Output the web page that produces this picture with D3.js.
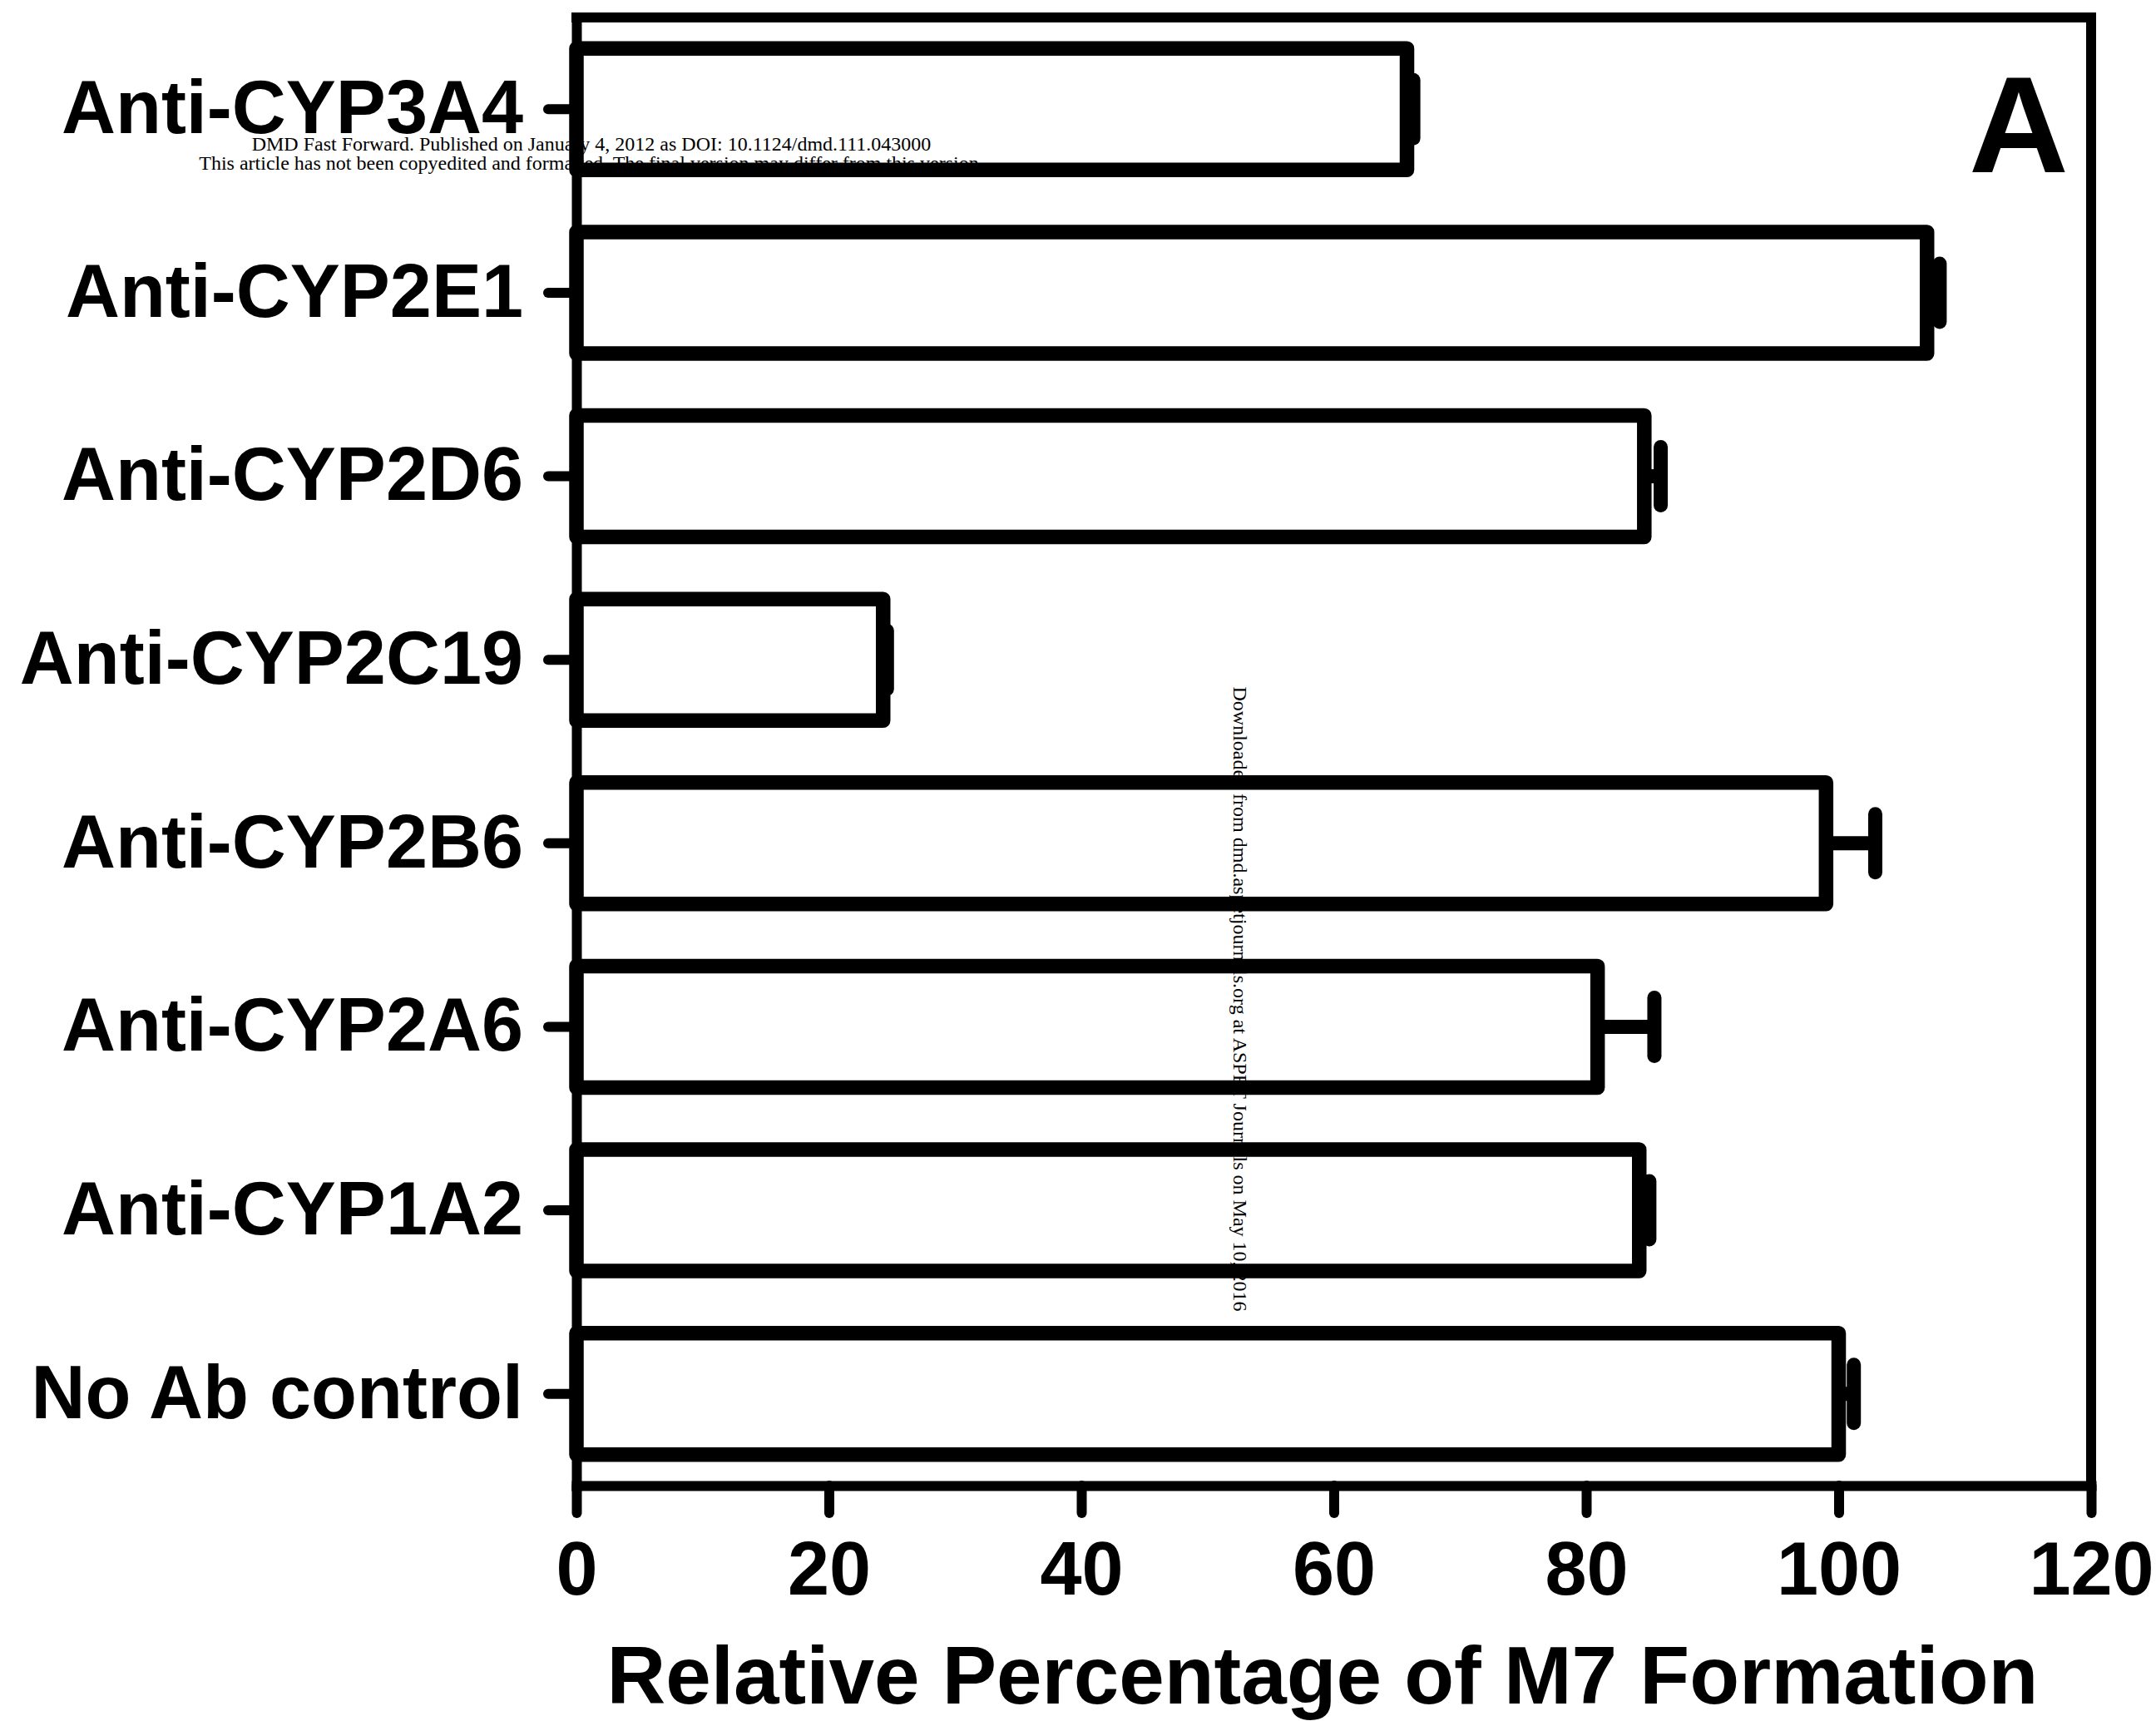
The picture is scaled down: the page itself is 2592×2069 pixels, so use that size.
<!DOCTYPE html>
<html>
<head>
<meta charset="utf-8">
<script src="https://cdn.jsdelivr.net/npm/d3@7"></script>
<style>
  html, body { margin: 0; padding: 0; background: #fff; }
  svg { display: block; }
</style>
</head>
<body>
<script>
// Antibody inhibition of M7 formation (relative to the no-antibody control)
const categories = [
  "Anti-CYP3A4", "Anti-CYP2E1", "Anti-CYP2D6", "Anti-CYP2C19",
  "Anti-CYP2B6", "Anti-CYP2A6", "Anti-CYP1A2", "No Ab control"
];
const means  = [65.8, 107.0, 84.6, 24.3, 99.0, 80.9, 84.2, 100.0];
const errors = [0.5, 1.0, 1.3, 0.3, 3.9, 4.5, 0.8, 1.2];
const xTicks = [0, 20, 40, 60, 80, 100, 120];
const xTitle = "Relative Percentage of M7 Formation";
const panelLetter = "A";
const noteLines = [
  "DMD Fast Forward. Published on January 4, 2012 as DOI: 10.1124/dmd.111.043000",
  "This article has not been copyedited and formatted. The final version may differ from this version."
];
const sideNote = "Downloaded from dmd.aspetjournals.org at ASPET Journals on May 10, 2016";

const W = 2592, H = 2069;
const plotLeft = 693, plotRight = 2514, plotTop = 21, plotBottom = 1786;
const sans = "'Liberation Sans', Arial, Helvetica, sans-serif";
const serif = "'Liberation Serif', 'Times New Roman', Times, serif";

const svg = d3.select("body").append("svg")
  .attr("width", W).attr("height", H)
  .style("background", "#fff");

const x = d3.scaleLinear().domain([0, 120]).range([plotLeft, plotRight]);
const y = d3.scaleBand().domain(categories).range([plotTop, plotBottom])
  .paddingInner(0.338).paddingOuter(0.169);

const rows = categories.map((c, i) => ({ c, m: means[i], e: errors[i] }));

// frame: top and right edges
svg.append("line")
  .attr("x1", plotLeft).attr("x2", plotRight).attr("y1", plotTop).attr("y2", plotTop)
  .attr("stroke", "#000").attr("stroke-width", 12).attr("stroke-linecap", "square");
svg.append("line")
  .attr("x1", plotRight).attr("x2", plotRight).attr("y1", plotTop).attr("y2", plotBottom)
  .attr("stroke", "#000").attr("stroke-width", 12).attr("stroke-linecap", "square");

// bars
svg.append("g").selectAll("rect").data(rows).join("rect")
  .attr("x", x(0))
  .attr("y", d => y(d.c))
  .attr("width", d => x(d.m) - x(0))
  .attr("height", y.bandwidth())
  .attr("fill", "none")
  .attr("stroke", "#000")
  .attr("stroke-width", 17.5)
  .attr("stroke-linejoin", "round");

// error bars (upper side only)
const eb = svg.append("g").attr("stroke", "#000").attr("stroke-width", 17);
eb.selectAll("line.stem").data(rows).join("line").attr("class", "stem")
  .attr("x1", d => x(d.m)).attr("x2", d => x(d.m + d.e))
  .attr("y1", d => y(d.c) + y.bandwidth() / 2)
  .attr("y2", d => y(d.c) + y.bandwidth() / 2);
eb.selectAll("line.cap").data(rows).join("line").attr("class", "cap")
  .attr("x1", d => x(d.m + d.e)).attr("x2", d => x(d.m + d.e))
  .attr("y1", d => y(d.c) + y.bandwidth() / 2 - 35)
  .attr("y2", d => y(d.c) + y.bandwidth() / 2 + 35)
  .attr("stroke-linecap", "round");

// x axis
const gx = svg.append("g")
  .attr("transform", `translate(0,${plotBottom})`)
  .call(d3.axisBottom(x).tickValues(xTicks).tickFormat(d3.format("d"))
    .tickSizeInner(33).tickSizeOuter(0).tickPadding(34));
gx.select(".domain").attr("stroke-width", 12).attr("stroke-linecap", "square");
gx.selectAll(".tick line").attr("stroke-width", 12).attr("stroke-linecap", "round");
gx.selectAll(".tick text")
  .attr("font-family", sans).attr("font-weight", "bold").attr("font-size", 90).attr("fill", "#000");

// y axis
const gy = svg.append("g")
  .attr("transform", `translate(${plotLeft},0)`)
  .call(d3.axisLeft(y).tickSizeInner(34).tickSizeOuter(0).tickPadding(30));
gy.select(".domain").attr("stroke-width", 12).attr("stroke-linecap", "square");
gy.selectAll(".tick line").attr("stroke-width", 12).attr("stroke-linecap", "round");
gy.selectAll(".tick text")
  .attr("font-family", sans).attr("font-weight", "bold").attr("font-size", 90).attr("fill", "#000");

// axis title
svg.append("text")
  .attr("x", 1590).attr("y", 2048)
  .attr("text-anchor", "middle")
  .attr("font-family", sans).attr("font-weight", "bold").attr("font-size", 98)
  .text(xTitle);

// panel letter
svg.append("text")
  .attr("x", 2427).attr("y", 207)
  .attr("text-anchor", "middle")
  .attr("font-family", sans).attr("font-weight", "bold").attr("font-size", 166)
  .text(panelLetter);

// publisher notes
svg.append("g").selectAll("text").data(noteLines).join("text")
  .attr("x", 711).attr("y", (d, i) => 181 + i * 23)
  .attr("text-anchor", "middle")
  .attr("font-family", serif).attr("font-size", 24)
  .text(d => d);

svg.append("text")
  .attr("transform", "translate(1483,1201) rotate(90)")
  .attr("text-anchor", "middle")
  .attr("font-family", serif).attr("font-size", 24)
  .text(sideNote);
</script>
</body>
</html>
